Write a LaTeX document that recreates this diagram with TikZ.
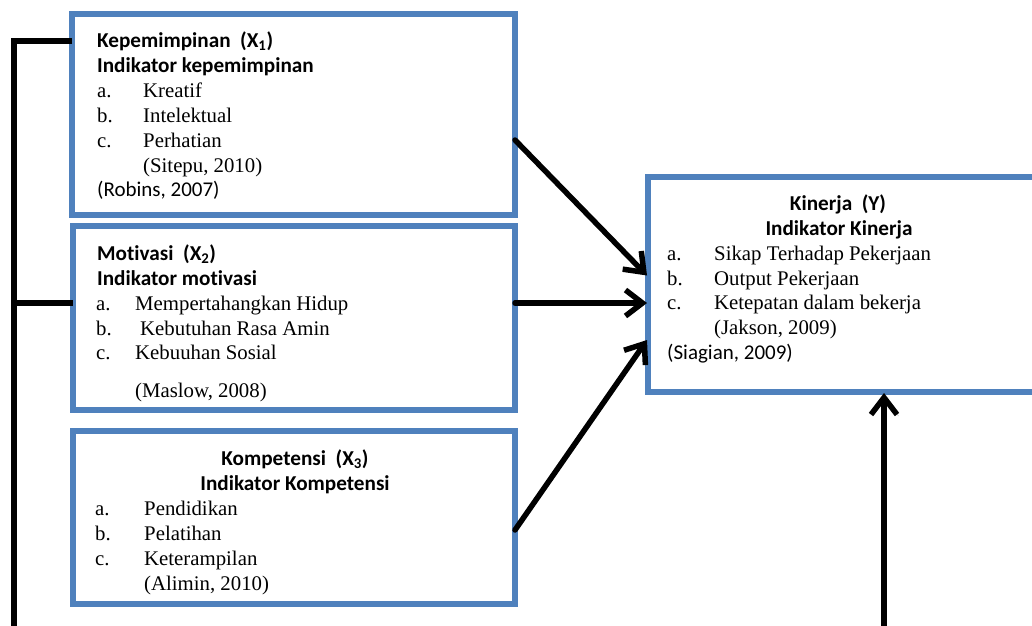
\documentclass[tikz,border=0pt]{standalone}
\usepackage{fontspec}
\setmainfont{Liberation Serif}
\newfontfamily\calfont[Ligatures=NoCommon]{Carlito}
\usetikzlibrary{arrows.meta}
\definecolor{boxblue}{HTML}{4F81BD}
\tikzset{
  box/.style={draw=boxblue, line width=6.5pt, rectangle, inner sep=0pt, outer sep=0pt, fill=white},
  hd/.style={font=\calfont\bfseries\fontsize{21.2}{24}\selectfont, inner sep=0pt, anchor=base west},
  hdc/.style={font=\calfont\bfseries\fontsize{21.2}{24}\selectfont, inner sep=0pt, anchor=base},
  tx/.style={font=\fontsize{20.8}{24}\selectfont, inner sep=0pt, anchor=base west},
  cs/.style={font=\calfont\fontsize{21}{24}\selectfont, inner sep=0pt, anchor=base west},
  link/.style={line width=6pt, black, line join=miter},
  arr/.style={line width=5.5pt, black, line cap=round, line join=round,
    -{Straight Barb[length=17pt,width=26pt]},
    preaction={draw=black!30, transform canvas={xshift=1.5pt,yshift=-1.5pt}}}
}
\begin{document}
\begin{tikzpicture}[x=1pt,y=-1pt]
\useasboundingbox (0,0) rectangle (1032,625);
\clip (0,0) rectangle (1032,625);

% boxes
\node[box, minimum width=443pt, minimum height=201pt] (b1) at (293.5,114.5) {};
\node[box, minimum width=442pt, minimum height=184pt] (b2) at (294,318) {};
\node[box, minimum width=442pt, minimum height=173pt] (b3) at (294,517.5) {};
\node[box, minimum width=395pt, minimum height=215pt] (by) at (845.5,284.5) {};

% box 1 text
\node[hd] (t1a) at (97,47) {Kepemimpinan~~(X\textsubscript{1})};
\node[hd] (t1b) at (97,72) {Indikator kepemimpinan};
\node[tx] (t1c) at (97,97) {a.};
\node[tx] (t1d) at (143,97) {Kreatif};
\node[tx] (t1e) at (97,122) {b.};
\node[tx] (t1f) at (143,122) {Intelektual};
\node[tx] (t1g) at (97,147) {c.};
\node[tx] (t1h) at (143,147) {Perhatian};
\node[tx] (t1i) at (143,172) {(Sitepu, 2010)};
\node[cs] (t1j) at (97,196) {(Robins, 2007)};

% box 2 text
\node[hd] (t2a) at (97,260) {Motivasi~~(X\textsubscript{2})};
\node[hd] (t2b) at (97,285) {Indikator motivasi};
\node[tx] (t2c) at (96,310) {a.};
\node[tx] (t2d) at (135,310) {Mempertahangkan Hidup};
\node[tx] (t2e) at (96,335) {b.};
\node[tx] (t2f) at (140,335) {Kebutuhan Rasa Amin};
\node[tx] (t2g) at (96,359) {c.};
\node[tx] (t2h) at (135,359) {Kebuuhan Sosial};
\node[tx] (t2i) at (135,397) {(Maslow, 2008)};

% box 3 text
\node[hdc] (t3a) at (295,465) {Kompetensi~~(X\textsubscript{3})};
\node[hdc] (t3b) at (295,490) {Indikator Kompetensi};
\node[tx] (t3c) at (95,515) {a.};
\node[tx] (t3d) at (144,515) {Pendidikan};
\node[tx] (t3e) at (95,540) {b.};
\node[tx] (t3f) at (144,540) {Pelatihan};
\node[tx] (t3g) at (95,565) {c.};
\node[tx] (t3h) at (144,565) {Keterampilan};
\node[tx] (t3i) at (144,590) {(Alimin, 2010)};

% box Y text
\node[hdc] (tya) at (838,210) {Kinerja~~(Y)};
\node[hdc] (tyb) at (839,235) {Indikator Kinerja};
\node[tx] (tyc) at (667,260) {a.};
\node[tx] (tyd) at (714,260) {Sikap Terhadap Pekerjaan};
\node[tx] (tye) at (667,285) {b.};
\node[tx] (tyf) at (714,285) {Output Pekerjaan};
\node[tx] (tyg) at (667,309) {c.};
\node[tx] (tyh) at (714,309) {Ketepatan dalam bekerja};
\node[tx] (tyi) at (714,334) {(Jakson, 2009)};
\node[cs] (tyj) at (667,359) {(Siagian, 2009)};

% left connector
\coordinate (ltop) at (14,41);
\coordinate (lmid) at (14,303);
\coordinate (lbot) at (14,640);
\draw[link] ([yshift=-27pt]b1.north west) -- (ltop) -- (lbot);
\draw[link] (lmid) -- ([yshift=15pt]b2.west);

% arrows
\draw[arr] ([yshift=-25.5pt]b1.east) -- ([xshift=-1pt,yshift=9pt]by.west);
\draw[arr] ([yshift=15pt]b2.east) -- ([xshift=-1pt,yshift=-18.5pt]by.west);
\draw[arr] ([yshift=-12.5pt]b3.east) -- ([xshift=-1pt,yshift=-55.5pt]by.west);
\coordinate (ubot) at (884,640);
\draw[arr] (ubot) -- ([xshift=38.5pt,yshift=-1pt]by.south);
\end{tikzpicture}
\end{document}
